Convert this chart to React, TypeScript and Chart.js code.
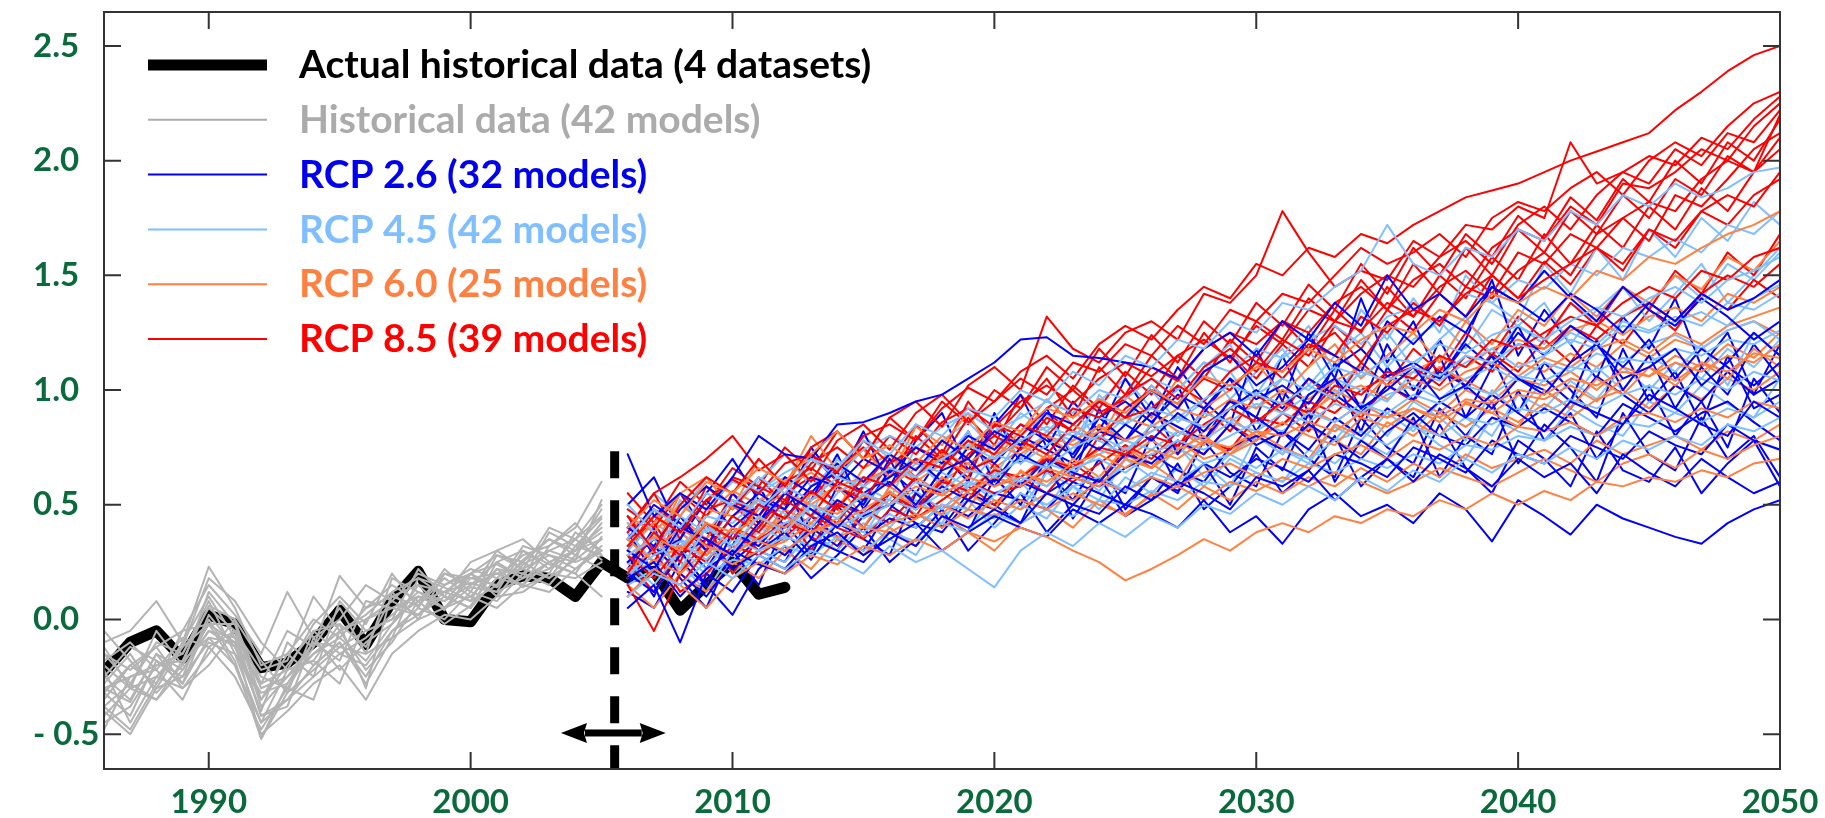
import React, { useEffect, useRef } from 'react';
import { Chart, registerables } from 'chart.js';

Chart.register(...registerables);

// ---------- categories ----------
const HIST_YEARS = [1986, 1987, 1988, 1989, 1990, 1991, 1992, 1993, 1994, 1995, 1996, 1997, 1998, 1999, 2000, 2001, 2002, 2003, 2004, 2005];
const ACTUAL_YEARS = [1986, 1987, 1988, 1989, 1990, 1991, 1992, 1993, 1994, 1995, 1996, 1997, 1998, 1999, 2000, 2001, 2002, 2003, 2004, 2005, 2006, 2007, 2008, 2009, 2010, 2011, 2012];
const RCP_YEARS = [2006, 2007, 2008, 2009, 2010, 2011, 2012, 2013, 2014, 2015, 2016, 2017, 2018, 2019, 2020, 2021, 2022, 2023, 2024, 2025, 2026, 2027, 2028, 2029, 2030, 2031, 2032, 2033, 2034, 2035, 2036, 2037, 2038, 2039, 2040, 2041, 2042, 2043, 2044, 2045, 2046, 2047, 2048, 2049, 2050];

// ---------- tick labels ----------
const X_TICKS = [1990, 2000, 2010, 2020, 2030, 2040, 2050];
const Y_TICKS = [-0.5, 0, 0.5, 1, 1.5, 2, 2.5];
const Y_TICK_LABELS = ['- 0.5', '0.0', '0.5', '1.0', '1.5', '2.0', '2.5'];

// ---------- series values ----------
const ACTUAL = [-0.23, -0.10, -0.05, -0.17, 0.02, -0.02, -0.21, -0.19, -0.10, 0.04, -0.11, 0.08, 0.21, 0.00, -0.01, 0.15, 0.19, 0.18, 0.10, 0.25, 0.18, 0.21, 0.04, 0.15, 0.25, 0.11, 0.14];

const HIST_MODELS = [
  [-0.30, -0.25, -0.20, -0.15, 0.05, -0.05, -0.30, -0.25, -0.15, -0.05, 0.00, 0.05, 0.10, 0.08, 0.15, 0.20, 0.22, 0.28, 0.25, 0.30],
  [-0.40, -0.50, -0.30, -0.25, -0.10, -0.15, -0.45, -0.35, -0.25, -0.15, -0.20, -0.05, 0.02, 0.10, 0.05, 0.18, 0.15, 0.25, 0.30, 0.35],
  [-0.10, -0.05, 0.08, -0.10, 0.23, 0.05, -0.20, -0.15, 0.00, -0.08, 0.05, 0.15, 0.08, 0.20, 0.15, 0.25, 0.30, 0.22, 0.35, 0.45],
  [-0.25, -0.35, -0.15, -0.22, -0.05, -0.12, -0.40, -0.10, -0.20, -0.10, -0.25, -0.05, 0.05, 0.00, 0.12, 0.08, 0.20, 0.15, 0.28, 0.22],
  [-0.35, -0.20, -0.28, -0.10, 0.10, -0.08, -0.25, -0.30, -0.12, 0.19, 0.05, 0.10, 0.15, 0.12, 0.20, 0.28, 0.25, 0.35, 0.30, 0.40],
  [-0.20, -0.30, -0.25, -0.30, -0.15, 0.00, -0.35, -0.20, -0.05, -0.15, -0.08, 0.02, 0.12, 0.05, 0.18, 0.15, 0.32, 0.28, 0.22, 0.30],
  [-0.45, -0.38, -0.20, -0.18, -0.08, -0.20, -0.50, -0.40, -0.28, -0.20, -0.35, -0.15, -0.05, 0.02, 0.00, 0.10, 0.12, 0.20, 0.18, 0.25],
  [-0.15, -0.22, -0.12, -0.05, 0.15, 0.02, -0.15, 0.12, -0.08, 0.00, 0.15, 0.08, 0.20, 0.15, 0.22, 0.18, 0.28, 0.32, 0.40, 0.60],
  [-0.28, -0.15, -0.32, -0.20, -0.02, -0.10, -0.28, -0.22, -0.18, -0.02, -0.12, 0.10, 0.06, 0.18, 0.10, 0.22, 0.20, 0.30, 0.26, 0.35],
  [-0.32, -0.42, -0.18, -0.28, 0.00, -0.18, -0.52, -0.32, -0.22, -0.12, -0.05, 0.00, 0.08, 0.12, 0.08, 0.15, 0.25, 0.18, 0.32, 0.28],
  [-0.18, -0.10, -0.22, -0.35, -0.12, -0.05, -0.22, -0.18, 0.10, -0.05, 0.02, 0.12, 0.18, 0.10, 0.25, 0.30, 0.22, 0.40, 0.35, 0.50],
  [-0.38, -0.28, -0.10, -0.15, 0.08, -0.15, -0.32, -0.28, -0.15, -0.08, -0.18, -0.02, 0.10, 0.05, 0.14, 0.12, 0.18, 0.25, 0.20, 0.10],
  [-0.22, -0.45, -0.25, -0.12, -0.02, -0.02, -0.38, -0.25, -0.10, -0.18, 0.08, 0.05, 0.02, 0.15, 0.20, 0.24, 0.18, 0.22, 0.30, 0.38],
  [-0.42, -0.30, -0.35, -0.22, -0.05, -0.08, -0.42, -0.35, -0.20, -0.10, -0.28, -0.08, 0.00, 0.05, 0.10, 0.05, 0.15, 0.12, 0.22, 0.32],
  [-0.12, -0.30, -0.05, -0.20, 0.12, -0.02, -0.28, -0.05, -0.12, 0.05, -0.15, 0.18, 0.12, 0.08, 0.20, 0.14, 0.26, 0.35, 0.28, 0.42],
  [-0.48, -0.25, -0.22, -0.08, -0.12, -0.25, -0.48, -0.30, -0.35, -0.05, -0.22, -0.10, 0.08, -0.02, 0.06, 0.22, 0.14, 0.20, 0.38, 0.30],
  [-0.05, -0.18, -0.30, -0.12, 0.18, 0.08, -0.10, -0.22, -0.02, 0.10, -0.02, 0.20, 0.05, 0.22, 0.12, 0.30, 0.35, 0.25, 0.30, 0.48],
  [-0.30, -0.36, -0.15, -0.30, -0.20, -0.05, -0.42, -0.38, -0.08, -0.22, -0.10, -0.02, 0.15, 0.04, 0.20, 0.10, 0.24, 0.30, 0.35, 0.26],
  [-0.25, -0.12, -0.18, -0.25, 0.02, -0.12, -0.35, -0.15, -0.25, 0.08, -0.05, 0.00, 0.22, 0.10, 0.05, 0.25, 0.18, 0.38, 0.32, 0.44],
  [-0.38, -0.48, -0.28, -0.05, -0.02, -0.20, -0.45, -0.22, -0.18, -0.28, 0.00, 0.08, 0.02, 0.12, 0.16, 0.12, 0.30, 0.24, 0.20, 0.36],
  [-0.15, -0.28, -0.35, -0.18, 0.06, 0.00, -0.18, -0.32, -0.05, -0.02, -0.30, 0.12, 0.00, 0.20, 0.18, 0.20, 0.15, 0.32, 0.42, 0.28],
  [-0.32, -0.20, -0.12, -0.28, -0.08, -0.10, -0.52, -0.28, -0.10, -0.12, -0.15, -0.08, 0.18, 0.14, 0.08, 0.28, 0.22, 0.18, 0.26, 0.52],
];

const RCP26_MODELS = [
  [0.72, 0.45, 0.55, 0.48, 0.62, 0.80, 0.72, 0.70, 0.85, 0.86, 0.90, 0.95, 0.98, 1.05, 1.12, 1.22, 1.23, 1.15, 1.14, 1.12, 1.10, 1.05, 1.18, 1.25, 1.15, 1.30, 1.22, 1.38, 1.28, 1.50, 1.35, 1.42, 1.32, 1.45, 1.38, 1.30, 1.42, 1.35, 1.25, 1.38, 1.30, 1.42, 1.35, 1.40, 1.48],
  [0.05, 0.15, -0.10, 0.20, 0.12, 0.28, 0.22, 0.35, 0.30, 0.25, 0.38, 0.32, 0.45, 0.40, 0.48, 0.42, 0.55, 0.50, 0.46, 0.58, 0.52, 0.60, 0.55, 0.48, 0.62, 0.58, 0.65, 0.52, 0.62, 0.70, 0.60, 0.72, 0.66, 0.58, 0.70, 0.62, 0.68, 0.55, 0.72, 0.64, 0.58, 0.70, 0.62, 0.55, 0.60],
  [0.30, 0.22, 0.40, 0.35, 0.28, 0.42, 0.55, 0.48, 0.40, 0.52, 0.60, 0.50, 0.65, 0.70, 0.58, 0.72, 0.66, 0.80, 0.74, 0.85, 0.78, 0.90, 0.82, 0.95, 0.88, 0.80, 0.98, 1.05, 0.92, 1.00, 1.10, 0.96, 1.02, 1.15, 1.05, 0.98, 1.12, 1.20, 1.05, 1.10, 1.18, 1.02, 1.12, 1.25, 1.15],
  [0.18, 0.25, 0.10, 0.22, 0.30, 0.24, 0.20, 0.32, 0.38, 0.28, 0.35, 0.42, 0.30, 0.38, 0.45, 0.40, 0.36, 0.48, 0.42, 0.50, 0.46, 0.40, 0.52, 0.38, 0.45, 0.33, 0.48, 0.55, 0.45, 0.50, 0.42, 0.55, 0.48, 0.34, 0.52, 0.45, 0.37, 0.50, 0.44, 0.40, 0.36, 0.33, 0.42, 0.48, 0.52],
  [0.40, 0.32, 0.48, 0.58, 0.50, 0.45, 0.62, 0.55, 0.68, 0.60, 0.72, 0.65, 0.78, 0.70, 0.82, 0.76, 0.90, 0.85, 0.95, 0.88, 1.00, 0.92, 1.08, 1.15, 1.02, 1.10, 1.22, 1.15, 1.08, 1.30, 1.20, 1.32, 1.25, 1.45, 1.38, 1.52, 1.40, 1.30, 1.45, 1.35, 1.28, 1.40, 1.32, 1.22, 1.30],
  [0.25, 0.35, 0.30, 0.15, 0.38, 0.32, 0.45, 0.40, 0.52, 0.46, 0.55, 0.48, 0.58, 0.52, 0.62, 0.58, 0.70, 0.64, 0.60, 0.72, 0.68, 0.78, 0.72, 0.85, 0.76, 0.82, 0.74, 0.88, 0.80, 0.92, 0.85, 0.95, 0.88, 0.98, 0.90, 0.82, 0.95, 0.90, 0.85, 0.98, 0.92, 0.85, 0.80, 0.95, 0.88],
  [0.35, 0.50, 0.42, 0.30, 0.45, 0.55, 0.48, 0.62, 0.58, 0.70, 0.64, 0.75, 0.68, 0.80, 0.74, 0.85, 0.78, 0.72, 0.88, 0.95, 0.86, 0.98, 0.92, 1.05, 0.96, 1.02, 0.94, 1.10, 1.18, 1.06, 1.12, 1.05, 1.20, 1.10, 1.25, 1.15, 1.28, 1.20, 1.10, 1.22, 1.05, 1.18, 1.10, 1.02, 1.12],
  [0.20, 0.12, 0.28, 0.35, 0.22, 0.30, 0.38, 0.26, 0.42, 0.36, 0.44, 0.40, 0.50, 0.45, 0.55, 0.52, 0.48, 0.60, 0.55, 0.50, 0.62, 0.56, 0.68, 0.62, 0.70, 0.66, 0.60, 0.72, 0.68, 0.62, 0.75, 0.70, 0.64, 0.78, 0.72, 0.68, 0.80, 0.75, 0.70, 0.82, 0.76, 0.72, 0.85, 0.78, 0.74],
  [0.45, 0.28, 0.35, 0.52, 0.40, 0.50, 0.44, 0.58, 0.64, 0.55, 0.62, 0.70, 0.60, 0.75, 0.68, 0.80, 0.74, 0.68, 0.82, 0.78, 0.90, 0.84, 0.78, 0.92, 1.00, 0.92, 1.05, 0.98, 0.90, 1.02, 0.96, 1.08, 1.02, 0.92, 1.05, 1.00, 0.92, 1.06, 0.98, 0.90, 1.02, 0.95, 1.08, 0.98, 1.05],
  [0.15, 0.32, 0.20, 0.10, 0.25, 0.35, 0.28, 0.40, 0.32, 0.45, 0.50, 0.42, 0.38, 0.52, 0.48, 0.60, 0.55, 0.62, 0.58, 0.66, 0.72, 0.65, 0.60, 0.75, 0.80, 0.74, 0.85, 0.78, 0.70, 0.82, 0.90, 0.80, 0.76, 0.88, 0.84, 0.92, 0.86, 0.80, 0.94, 0.88, 0.82, 0.90, 0.95, 0.86, 0.78],
  [0.38, 0.20, 0.45, 0.30, 0.55, 0.42, 0.60, 0.35, 0.58, 0.50, 0.70, 0.48, 0.66, 0.82, 0.60, 0.75, 0.92, 0.70, 0.88, 0.78, 0.95, 0.72, 0.90, 1.05, 0.82, 1.00, 0.85, 1.12, 0.92, 1.20, 1.00, 1.15, 0.88, 1.10, 1.28, 1.05, 0.95, 1.22, 1.00, 1.15, 0.92, 1.10, 0.98, 1.20, 1.05],
  [0.22, 0.40, 0.18, 0.05, 0.30, 0.15, 0.42, 0.28, 0.50, 0.35, 0.28, 0.55, 0.45, 0.38, 0.62, 0.50, 0.70, 0.44, 0.62, 0.55, 0.80, 0.58, 0.68, 0.50, 0.75, 0.65, 0.90, 0.60, 0.78, 0.70, 0.88, 0.62, 0.80, 0.95, 0.68, 0.85, 0.75, 0.60, 0.90, 0.72, 0.65, 0.88, 0.70, 0.80, 0.62],
  [0.50, 0.62, 0.38, 0.55, 0.70, 0.52, 0.48, 0.75, 0.60, 0.82, 0.58, 0.78, 0.90, 0.65, 0.85, 0.98, 0.75, 0.95, 0.82, 1.05, 0.88, 1.10, 0.95, 0.85, 1.18, 0.95, 1.25, 1.05, 1.40, 1.12, 1.30, 1.05, 1.22, 1.48, 1.15, 1.35, 1.20, 1.05, 1.32, 1.18, 1.40, 1.10, 1.25, 0.98, 1.20],
  [0.12, 0.05, 0.25, 0.15, 0.02, 0.22, 0.32, 0.18, 0.28, 0.40, 0.25, 0.35, 0.48, 0.30, 0.42, 0.55, 0.38, 0.50, 0.62, 0.45, 0.52, 0.68, 0.48, 0.58, 0.72, 0.55, 0.65, 0.80, 0.58, 0.70, 0.62, 0.85, 0.66, 0.55, 0.78, 0.70, 0.58, 0.82, 0.65, 0.60, 0.75, 0.55, 0.68, 0.78, 0.58],
  [0.30, 0.45, 0.55, 0.38, 0.32, 0.58, 0.40, 0.52, 0.72, 0.48, 0.65, 0.55, 0.72, 0.60, 0.90, 0.68, 0.80, 0.62, 0.92, 0.70, 0.85, 1.02, 0.78, 0.96, 0.88, 1.15, 0.90, 1.05, 0.82, 1.10, 0.95, 1.22, 1.00, 1.15, 0.90, 1.12, 1.00, 0.88, 1.18, 0.95, 1.08, 0.85, 1.15, 0.92, 0.98],
  [0.28, 0.10, 0.35, 0.22, 0.40, 0.30, 0.25, 0.45, 0.36, 0.30, 0.48, 0.62, 0.40, 0.55, 0.50, 0.42, 0.65, 0.52, 0.70, 0.48, 0.62, 0.55, 0.78, 0.64, 0.58, 0.82, 0.70, 0.62, 0.88, 0.75, 0.68, 0.92, 0.80, 0.72, 1.00, 0.78, 0.90, 0.70, 0.85, 1.02, 0.80, 0.95, 0.75, 1.05, 0.90],
];

const RCP45_MODELS = [
  [0.35, 0.48, 0.40, 0.55, 0.50, 0.62, 0.55, 0.70, 0.66, 0.78, 0.72, 0.85, 0.80, 0.92, 0.88, 1.00, 0.95, 1.08, 1.02, 1.15, 1.10, 1.22, 1.18, 1.30, 1.25, 1.38, 1.35, 1.45, 1.52, 1.72, 1.55, 1.50, 1.62, 1.58, 1.70, 1.65, 1.78, 1.72, 1.85, 1.80, 1.90, 1.84, 1.88, 1.95, 1.97],
  [0.10, 0.20, 0.15, 0.25, 0.18, 0.28, 0.22, 0.30, 0.26, 0.20, 0.32, 0.25, 0.30, 0.22, 0.14, 0.30, 0.38, 0.32, 0.42, 0.36, 0.45, 0.40, 0.50, 0.46, 0.55, 0.50, 0.58, 0.52, 0.62, 0.56, 0.65, 0.60, 0.70, 0.64, 0.72, 0.68, 0.75, 0.70, 0.78, 0.74, 0.80, 0.76, 0.85, 0.82, 0.88],
  [0.28, 0.35, 0.22, 0.40, 0.32, 0.45, 0.38, 0.50, 0.44, 0.55, 0.50, 0.60, 0.56, 0.65, 0.62, 0.70, 0.66, 0.75, 0.80, 0.74, 0.82, 0.88, 0.84, 0.92, 0.98, 0.94, 1.02, 0.96, 1.08, 1.04, 1.10, 1.06, 1.15, 1.12, 1.20, 1.16, 1.25, 1.20, 1.30, 1.26, 1.32, 1.28, 1.38, 1.35, 1.42],
  [0.42, 0.30, 0.45, 0.38, 0.52, 0.48, 0.58, 0.52, 0.62, 0.58, 0.66, 0.62, 0.70, 0.76, 0.70, 0.78, 0.84, 0.80, 0.88, 0.85, 0.92, 0.88, 0.96, 1.02, 0.98, 1.05, 1.00, 1.10, 1.06, 1.14, 1.12, 1.20, 1.16, 1.24, 1.28, 1.22, 1.30, 1.36, 1.32, 1.40, 1.45, 1.38, 1.48, 1.52, 1.58],
  [0.20, 0.28, 0.34, 0.26, 0.38, 0.34, 0.42, 0.48, 0.40, 0.46, 0.52, 0.48, 0.55, 0.60, 0.54, 0.62, 0.58, 0.66, 0.70, 0.64, 0.72, 0.78, 0.74, 0.80, 0.86, 0.82, 0.90, 0.86, 0.94, 0.90, 0.98, 0.94, 1.02, 0.98, 1.06, 1.04, 1.10, 1.08, 1.14, 1.12, 1.18, 1.15, 1.22, 1.20, 1.26],
  [0.50, 0.38, 0.30, 0.45, 0.42, 0.52, 0.46, 0.40, 0.55, 0.62, 0.58, 0.68, 0.64, 0.58, 0.72, 0.68, 0.76, 0.82, 0.78, 0.72, 0.85, 0.80, 0.90, 0.86, 0.94, 0.90, 0.98, 1.05, 1.00, 0.95, 1.08, 1.04, 1.12, 1.18, 1.10, 1.15, 1.22, 1.18, 1.28, 1.25, 1.30, 1.34, 1.28, 1.40, 1.46],
  [0.25, 0.15, 0.30, 0.22, 0.35, 0.30, 0.36, 0.32, 0.42, 0.38, 0.46, 0.40, 0.50, 0.48, 0.44, 0.55, 0.50, 0.58, 0.62, 0.56, 0.64, 0.60, 0.68, 0.72, 0.66, 0.74, 0.70, 0.78, 0.82, 0.76, 0.84, 0.80, 0.88, 0.85, 0.92, 0.90, 0.96, 0.92, 0.98, 1.02, 0.98, 1.05, 1.00, 1.08, 1.04],
  [0.32, 0.45, 0.55, 0.48, 0.60, 0.56, 0.64, 0.70, 0.62, 0.74, 0.80, 0.75, 0.84, 0.90, 0.82, 0.88, 0.95, 0.90, 1.00, 0.96, 1.05, 1.00, 1.12, 1.08, 1.18, 1.14, 1.22, 1.28, 1.20, 1.32, 1.36, 1.30, 1.42, 1.38, 1.48, 1.44, 1.55, 1.50, 1.62, 1.58, 1.66, 1.60, 1.72, 1.68, 1.78],
  [0.38, 0.25, 0.32, 0.42, 0.30, 0.40, 0.35, 0.45, 0.52, 0.44, 0.50, 0.56, 0.48, 0.58, 0.64, 0.60, 0.68, 0.64, 0.72, 0.78, 0.74, 0.82, 0.78, 0.86, 0.82, 0.90, 0.86, 0.94, 0.90, 0.98, 1.02, 0.96, 1.05, 1.10, 1.04, 1.12, 1.08, 1.16, 1.12, 1.20, 1.24, 1.18, 1.26, 1.30, 1.22],
  [0.15, 0.22, 0.28, 0.20, 0.26, 0.24, 0.32, 0.28, 0.36, 0.30, 0.38, 0.34, 0.42, 0.38, 0.46, 0.42, 0.48, 0.45, 0.52, 0.50, 0.56, 0.52, 0.60, 0.58, 0.64, 0.60, 0.68, 0.64, 0.70, 0.66, 0.72, 0.68, 0.76, 0.74, 0.80, 0.78, 0.84, 0.80, 0.86, 0.84, 0.90, 0.86, 0.92, 0.88, 0.95],
  [0.45, 0.30, 0.52, 0.40, 0.35, 0.55, 0.62, 0.45, 0.70, 0.58, 0.52, 0.75, 0.68, 0.82, 0.62, 0.80, 0.90, 0.72, 0.98, 0.85, 1.02, 0.92, 1.10, 1.20, 0.98, 1.15, 1.28, 1.08, 1.35, 1.22, 1.40, 1.25, 1.50, 1.38, 1.30, 1.55, 1.42, 1.62, 1.48, 1.70, 1.58, 1.75, 1.65, 1.82, 1.72],
  [0.18, 0.32, 0.25, 0.12, 0.30, 0.38, 0.28, 0.42, 0.35, 0.48, 0.40, 0.52, 0.45, 0.38, 0.55, 0.60, 0.48, 0.65, 0.56, 0.70, 0.62, 0.75, 0.68, 0.58, 0.80, 0.72, 0.85, 0.78, 0.92, 0.80, 0.95, 0.88, 0.78, 1.00, 0.90, 1.05, 0.95, 1.10, 1.00, 1.15, 1.08, 1.20, 1.02, 1.25, 1.15],
  [0.30, 0.42, 0.35, 0.28, 0.45, 0.52, 0.40, 0.58, 0.68, 0.50, 0.62, 0.70, 0.58, 0.76, 0.85, 0.70, 0.82, 0.92, 0.78, 0.88, 1.00, 0.86, 0.95, 1.08, 0.92, 1.05, 1.18, 0.98, 1.12, 1.25, 1.10, 1.22, 1.32, 1.15, 1.28, 1.38, 1.20, 1.35, 1.45, 1.30, 1.42, 1.55, 1.38, 1.50, 1.62],
  [0.22, 0.12, 0.28, 0.35, 0.20, 0.30, 0.25, 0.38, 0.30, 0.42, 0.35, 0.28, 0.45, 0.52, 0.40, 0.50, 0.44, 0.58, 0.48, 0.62, 0.55, 0.66, 0.58, 0.70, 0.64, 0.60, 0.74, 0.68, 0.78, 0.72, 0.85, 0.76, 0.70, 0.88, 0.82, 0.78, 0.92, 0.85, 0.80, 0.95, 0.90, 1.02, 0.94, 0.88, 1.05],
  [0.40, 0.55, 0.45, 0.62, 0.48, 0.60, 0.72, 0.58, 0.66, 0.80, 0.70, 0.62, 0.78, 0.86, 0.74, 0.90, 0.82, 0.78, 0.95, 1.05, 0.92, 1.00, 1.12, 0.96, 1.08, 1.18, 1.02, 1.15, 1.25, 1.10, 1.22, 1.30, 1.18, 1.35, 1.28, 1.20, 1.38, 1.30, 1.45, 1.36, 1.50, 1.40, 1.55, 1.48, 1.60],
  [0.28, 0.20, 0.38, 0.30, 0.25, 0.42, 0.34, 0.50, 0.40, 0.36, 0.55, 0.46, 0.42, 0.60, 0.52, 0.48, 0.64, 0.58, 0.52, 0.70, 0.66, 0.76, 0.62, 0.72, 0.80, 0.74, 0.68, 0.84, 0.78, 0.90, 0.82, 0.95, 0.88, 0.80, 0.98, 0.92, 1.04, 0.96, 1.10, 1.00, 1.12, 1.05, 1.18, 1.10, 1.22],
];

const RCP60_MODELS = [
  [0.40, 0.52, 0.45, 0.60, 0.55, 0.66, 0.60, 0.72, 0.82, 0.70, 0.76, 0.68, 0.80, 0.74, 0.86, 0.82, 0.92, 0.88, 0.96, 0.90, 1.00, 0.94, 1.06, 1.02, 1.10, 1.08, 1.18, 1.12, 1.22, 1.28, 1.25, 1.35, 1.30, 1.42, 1.38, 1.45, 1.40, 1.52, 1.48, 1.58, 1.55, 1.62, 1.68, 1.72, 1.78],
  [0.10, 0.22, 0.15, 0.05, 0.18, 0.25, 0.20, 0.28, 0.24, 0.32, 0.28, 0.35, 0.30, 0.38, 0.34, 0.40, 0.36, 0.30, 0.25, 0.17, 0.22, 0.28, 0.35, 0.30, 0.38, 0.42, 0.38, 0.45, 0.42, 0.48, 0.45, 0.52, 0.48, 0.55, 0.50, 0.56, 0.52, 0.60, 0.58, 0.62, 0.60, 0.65, 0.62, 0.68, 0.70],
  [0.28, 0.36, 0.30, 0.42, 0.38, 0.44, 0.40, 0.50, 0.46, 0.54, 0.50, 0.58, 0.54, 0.62, 0.58, 0.64, 0.60, 0.68, 0.72, 0.66, 0.74, 0.70, 0.78, 0.75, 0.82, 0.80, 0.86, 0.82, 0.90, 0.88, 0.92, 0.88, 0.96, 0.94, 1.00, 0.98, 1.05, 1.02, 1.08, 1.06, 1.12, 1.08, 1.15, 1.12, 1.20],
  [0.22, 0.30, 0.40, 0.32, 0.28, 0.36, 0.45, 0.38, 0.42, 0.48, 0.55, 0.50, 0.46, 0.56, 0.62, 0.58, 0.66, 0.62, 0.58, 0.70, 0.66, 0.74, 0.80, 0.72, 0.78, 0.86, 0.80, 0.76, 0.88, 0.84, 0.92, 0.86, 0.94, 0.90, 0.98, 0.96, 1.02, 0.95, 1.05, 1.10, 1.04, 1.12, 1.08, 1.16, 1.14],
  [0.35, 0.25, 0.32, 0.28, 0.40, 0.34, 0.30, 0.38, 0.44, 0.36, 0.42, 0.46, 0.40, 0.48, 0.45, 0.52, 0.48, 0.55, 0.50, 0.46, 0.54, 0.58, 0.52, 0.60, 0.56, 0.62, 0.58, 0.64, 0.60, 0.55, 0.60, 0.66, 0.62, 0.58, 0.64, 0.70, 0.65, 0.60, 0.68, 0.72, 0.66, 0.74, 0.70, 0.76, 0.80],
  [0.45, 0.38, 0.50, 0.42, 0.35, 0.48, 0.55, 0.50, 0.58, 0.62, 0.58, 0.66, 0.70, 0.64, 0.72, 0.76, 0.70, 0.78, 0.84, 0.78, 0.82, 0.88, 0.84, 0.92, 0.86, 0.94, 0.90, 0.98, 1.02, 0.96, 1.05, 1.00, 1.08, 1.12, 1.06, 1.14, 1.10, 1.18, 1.22, 1.16, 1.25, 1.20, 1.28, 1.32, 1.36],
  [0.18, 0.26, 0.20, 0.30, 0.24, 0.30, 0.34, 0.42, 0.36, 0.40, 0.38, 0.44, 0.50, 0.44, 0.52, 0.48, 0.55, 0.52, 0.60, 0.56, 0.62, 0.58, 0.64, 0.68, 0.62, 0.70, 0.66, 0.72, 0.76, 0.70, 0.78, 0.74, 0.80, 0.76, 0.84, 0.82, 0.86, 0.80, 0.88, 0.90, 0.86, 0.92, 0.88, 0.95, 0.92],
  [0.32, 0.42, 0.55, 0.48, 0.45, 0.52, 0.58, 0.64, 0.56, 0.60, 0.66, 0.62, 0.72, 0.68, 0.76, 0.72, 0.80, 0.76, 0.82, 0.88, 0.84, 0.92, 0.88, 0.96, 0.92, 1.00, 0.96, 1.04, 1.10, 1.02, 1.08, 1.14, 1.10, 1.18, 1.22, 1.18, 1.26, 1.30, 1.24, 1.32, 1.36, 1.30, 1.42, 1.38, 1.45],
  [0.25, 0.38, 0.20, 0.42, 0.30, 0.45, 0.36, 0.55, 0.48, 0.40, 0.58, 0.50, 0.62, 0.55, 0.48, 0.65, 0.58, 0.70, 0.62, 0.75, 0.68, 0.60, 0.78, 0.72, 0.82, 0.75, 0.70, 0.85, 0.80, 0.92, 0.86, 0.80, 0.95, 0.90, 0.84, 1.00, 0.92, 1.05, 0.98, 1.10, 1.02, 1.12, 1.05, 1.18, 1.10],
  [0.42, 0.30, 0.55, 0.62, 0.48, 0.70, 0.58, 0.80, 0.65, 0.74, 0.62, 0.84, 0.76, 0.90, 0.70, 0.82, 0.96, 0.85, 0.78, 0.98, 0.88, 1.05, 0.92, 1.00, 1.12, 0.98, 1.10, 1.20, 1.05, 1.15, 1.25, 1.12, 1.30, 1.20, 1.35, 1.28, 1.42, 1.32, 1.45, 1.38, 1.50, 1.44, 1.58, 1.52, 1.65],
  [0.15, 0.05, 0.20, 0.12, 0.25, 0.18, 0.30, 0.22, 0.35, 0.28, 0.40, 0.32, 0.45, 0.38, 0.30, 0.42, 0.48, 0.40, 0.52, 0.45, 0.55, 0.48, 0.58, 0.52, 0.60, 0.55, 0.62, 0.58, 0.66, 0.60, 0.68, 0.62, 0.72, 0.66, 0.70, 0.74, 0.68, 0.78, 0.72, 0.76, 0.80, 0.74, 0.82, 0.78, 0.85],
  [0.32, 0.45, 0.38, 0.28, 0.40, 0.35, 0.48, 0.42, 0.52, 0.46, 0.56, 0.48, 0.60, 0.68, 0.58, 0.62, 0.72, 0.66, 0.74, 0.70, 0.78, 0.72, 0.82, 0.88, 0.80, 0.85, 0.92, 0.86, 0.94, 0.88, 0.96, 0.90, 1.00, 0.95, 1.05, 1.02, 1.08, 1.00, 1.10, 1.06, 1.15, 1.10, 1.20, 1.14, 1.25],
  [0.20, 0.30, 0.45, 0.35, 0.50, 0.42, 0.38, 0.52, 0.58, 0.45, 0.50, 0.62, 0.55, 0.48, 0.66, 0.58, 0.70, 0.64, 0.60, 0.72, 0.66, 0.78, 0.70, 0.74, 0.80, 0.72, 0.84, 0.78, 0.72, 0.86, 0.80, 0.90, 0.84, 0.92, 0.86, 0.94, 0.88, 0.96, 1.00, 0.92, 1.02, 0.96, 1.05, 1.00, 1.08],
  [0.38, 0.48, 0.30, 0.45, 0.56, 0.50, 0.62, 0.55, 0.48, 0.66, 0.72, 0.60, 0.68, 0.78, 0.66, 0.74, 0.80, 0.72, 0.85, 0.78, 0.90, 0.82, 0.76, 0.92, 0.86, 0.95, 0.88, 1.00, 0.94, 1.06, 1.00, 1.10, 1.04, 0.98, 1.12, 1.08, 1.16, 1.10, 1.20, 1.14, 1.22, 1.18, 1.26, 1.30, 1.24],
];

const RCP85_MODELS = [
  [0.32, 0.45, 0.38, 0.52, 0.61, 0.55, 0.68, 0.72, 0.64, 0.80, 0.85, 0.78, 0.92, 1.01, 0.95, 1.08, 1.15, 1.05, 1.20, 1.28, 1.22, 1.35, 1.45, 1.40, 1.55, 1.50, 1.62, 1.58, 1.68, 1.64, 1.72, 1.78, 1.84, 1.87, 1.90, 1.95, 2.00, 2.04, 2.08, 2.12, 2.22, 2.30, 2.39, 2.46, 2.50],
  [0.45, 0.30, 0.50, 0.62, 0.55, 0.70, 0.58, 0.75, 0.82, 0.70, 0.88, 0.95, 0.84, 1.02, 1.10, 1.00, 1.32, 1.18, 1.12, 1.25, 1.30, 1.22, 1.42, 1.38, 1.50, 1.78, 1.60, 1.45, 1.52, 1.48, 1.65, 1.58, 1.72, 1.70, 1.80, 1.75, 2.08, 1.90, 1.95, 2.02, 1.98, 2.10, 2.05, 2.18, 2.28],
  [0.20, 0.38, 0.28, 0.42, 0.35, 0.50, 0.44, 0.56, 0.48, 0.62, 0.58, 0.70, 0.66, 0.78, 0.72, 0.85, 0.80, 0.92, 0.88, 0.98, 1.05, 0.96, 1.10, 1.18, 1.08, 1.22, 1.15, 1.30, 1.26, 1.38, 1.32, 1.45, 1.52, 1.42, 1.60, 1.55, 1.68, 1.62, 1.75, 1.82, 1.78, 1.92, 2.00, 1.95, 2.20],
  [0.10, 0.22, 0.15, 0.30, 0.45, 0.38, 0.52, 0.45, 0.60, 0.55, 0.50, 0.62, 0.74, 0.65, 0.70, 0.78, 0.72, 0.85, 0.95, 0.88, 0.92, 1.02, 0.95, 1.08, 1.15, 1.05, 1.18, 1.25, 1.12, 1.28, 1.35, 1.30, 1.42, 1.50, 1.40, 1.48, 1.55, 1.62, 1.52, 1.70, 1.65, 1.78, 1.85, 1.80, 1.95],
  [0.28, 0.18, 0.32, 0.25, 0.40, 0.35, 0.42, 0.38, 0.50, 0.46, 0.55, 0.48, 0.60, 0.56, 0.65, 0.62, 0.70, 0.66, 0.75, 0.72, 0.80, 0.76, 0.85, 0.92, 0.86, 0.95, 0.90, 1.02, 0.98, 1.08, 1.05, 1.15, 1.10, 1.22, 1.18, 1.25, 1.32, 1.28, 1.38, 1.45, 1.40, 1.52, 1.48, 1.58, 1.62],
  [0.38, 0.55, 0.62, 0.70, 0.80, 0.65, 0.72, 0.60, 0.78, 0.85, 0.74, 0.90, 0.98, 0.86, 0.95, 1.05, 0.98, 1.12, 1.08, 1.20, 1.15, 1.28, 1.20, 1.35, 1.30, 1.42, 1.38, 1.50, 1.62, 1.55, 1.60, 1.68, 1.58, 1.75, 1.82, 1.78, 1.88, 1.95, 1.85, 2.00, 2.08, 2.02, 2.15, 2.25, 2.30],
  [0.15, -0.05, 0.20, 0.35, 0.28, 0.40, 0.55, 0.48, 0.42, 0.58, 0.66, 0.60, 0.55, 0.72, 0.80, 0.74, 0.88, 0.82, 0.78, 0.92, 1.00, 0.94, 1.05, 1.00, 1.12, 1.08, 1.20, 1.15, 1.32, 1.25, 1.38, 1.28, 1.45, 1.40, 1.52, 1.60, 1.50, 1.68, 1.75, 1.65, 1.85, 1.80, 1.92, 2.05, 2.12],
  [0.35, 0.42, 0.25, 0.48, 0.52, 0.45, 0.60, 0.66, 0.58, 0.52, 0.68, 0.75, 0.70, 0.62, 0.85, 0.80, 0.92, 1.00, 0.90, 0.96, 1.10, 1.04, 1.18, 1.25, 1.20, 1.30, 1.25, 1.38, 1.45, 1.35, 1.48, 1.55, 1.45, 1.62, 1.70, 1.65, 1.80, 1.72, 1.90, 1.88, 1.95, 2.05, 2.00, 2.15, 2.25],
  [0.22, 0.30, 0.12, 0.20, 0.32, 0.28, 0.36, 0.45, 0.40, 0.35, 0.48, 0.44, 0.52, 0.60, 0.55, 0.58, 0.65, 0.60, 0.68, 0.76, 0.70, 0.82, 0.78, 0.74, 0.88, 0.85, 0.95, 0.90, 1.00, 1.06, 1.10, 1.02, 1.15, 1.08, 1.20, 1.18, 1.28, 1.22, 1.32, 1.38, 1.30, 1.42, 1.50, 1.45, 1.55],
  [0.48, 0.40, 0.55, 0.45, 0.62, 0.58, 0.52, 0.68, 0.75, 0.66, 0.80, 0.72, 0.86, 0.92, 0.84, 0.95, 1.02, 0.94, 1.05, 1.12, 1.06, 1.15, 1.22, 1.14, 1.28, 1.20, 1.35, 1.30, 1.42, 1.50, 1.45, 1.58, 1.65, 1.55, 1.72, 1.80, 1.70, 1.85, 1.95, 1.90, 2.05, 1.98, 2.12, 2.08, 2.22],
  [0.40, 0.55, 0.35, 0.58, 0.48, 0.62, 0.50, 0.72, 0.60, 0.78, 0.68, 0.85, 0.72, 0.95, 0.80, 0.92, 1.05, 0.88, 1.10, 0.98, 1.15, 1.05, 1.25, 1.12, 1.30, 1.22, 1.40, 1.30, 1.48, 1.35, 1.55, 1.42, 1.62, 1.50, 1.70, 1.60, 1.78, 1.68, 1.85, 1.75, 1.92, 1.85, 2.02, 1.95, 2.10],
  [0.25, 0.12, 0.30, 0.42, 0.20, 0.35, 0.48, 0.30, 0.52, 0.40, 0.55, 0.45, 0.62, 0.52, 0.68, 0.58, 0.72, 0.62, 0.80, 0.70, 0.85, 0.75, 0.92, 0.82, 0.98, 0.90, 1.05, 0.95, 1.12, 1.02, 1.18, 1.08, 1.25, 1.15, 1.32, 1.22, 1.38, 1.28, 1.45, 1.35, 1.52, 1.42, 1.60, 1.50, 1.68],
  [0.30, 0.48, 0.42, 0.35, 0.55, 0.45, 0.58, 0.52, 0.66, 0.75, 0.62, 0.80, 0.70, 0.88, 0.76, 0.98, 0.85, 1.02, 0.92, 1.08, 0.98, 1.15, 1.05, 1.22, 1.12, 1.30, 1.18, 1.35, 1.25, 1.45, 1.32, 1.50, 1.40, 1.58, 1.48, 1.68, 1.55, 1.72, 1.62, 1.80, 1.70, 1.88, 1.78, 1.95, 2.05],
  [0.18, 0.32, 0.25, 0.15, 0.38, 0.30, 0.42, 0.36, 0.30, 0.48, 0.42, 0.55, 0.48, 0.58, 0.50, 0.62, 0.55, 0.68, 0.60, 0.74, 0.66, 0.78, 0.72, 0.85, 0.78, 0.90, 0.82, 0.96, 0.88, 1.02, 0.95, 1.10, 1.02, 1.16, 1.08, 1.22, 1.12, 1.28, 1.20, 1.35, 1.26, 1.42, 1.35, 1.48, 1.40],
  [0.55, 0.42, 0.60, 0.50, 0.66, 0.58, 0.75, 0.65, 0.82, 0.70, 0.88, 0.78, 0.95, 0.85, 1.00, 0.92, 1.10, 1.00, 1.18, 1.06, 1.24, 1.12, 1.30, 1.20, 1.38, 1.28, 1.46, 1.35, 1.55, 1.42, 1.62, 1.50, 1.68, 1.58, 1.76, 1.66, 1.84, 1.74, 1.92, 1.82, 2.00, 1.90, 2.08, 2.00, 2.18],
  [0.35, 0.25, 0.45, 0.32, 0.50, 0.40, 0.55, 0.62, 0.50, 0.58, 0.72, 0.62, 0.78, 0.70, 0.86, 0.76, 0.90, 0.82, 0.96, 0.88, 1.02, 0.92, 1.08, 1.15, 1.05, 1.20, 1.10, 1.28, 1.18, 1.35, 1.26, 1.42, 1.32, 1.50, 1.40, 1.56, 1.46, 1.62, 1.55, 1.70, 1.62, 1.78, 1.72, 1.85, 1.92],
];

// vertical divider (2005/2006 boundary) and the time-shift arrow
const DIVIDER_X = [2005.5, 2005.5];
const DIVIDER_Y = [0.733, -0.66];
const ARROW_X = [2003.45, 2007.45];
const ARROW_Y = -0.495;

// ---------- styles ----------
const COLORS = {
  actual: '#000000',
  hist: '#b3b3b3',
  rcp26: '#0000ff',
  rcp45: '#80bfff',
  rcp60: '#ff8040',
  rcp85: '#ff0000',
};
const LEGEND_LABELS = [
  'Actual historical data (4 datasets)',
  'Historical data (42 models)',
  'RCP 2.6 (32 models)',
  'RCP 4.5 (42 models)',
  'RCP 6.0 (25 models)',
  'RCP 8.5 (39 models)',
];
const LEGEND_COLORS = [COLORS.actual, '#ababab', '#0000ee', COLORS.rcp45, COLORS.rcp60, COLORS.rcp85];
const LEGEND_LINE_W = [11, 2, 2, 2, 2, 2];
const TICK_GREEN = '#0b6a3b';
const FONT = 'Lato, "Open Sans", sans-serif';

const pts = (years: number[], vals: number[]) => vals.map((v, i) => ({ x: years[i], y: v }));

const lineDs = (data: any[], color: string, width: number) => ({
  data,
  borderColor: color,
  borderWidth: width,
  pointRadius: 0,
  pointHoverRadius: 0,
  fill: false,
  tension: 0,
  borderJoinStyle: 'round' as const,
  borderCapStyle: 'round' as const,
});

const framePlugin = {
  id: 'frameTicks',
  afterDatasetsDraw(chart: any) {
    const { ctx, chartArea: a, scales } = chart;
    const xs = scales.x;
    const ys = scales.y;
    const TL = 17;
    ctx.save();
    ctx.strokeStyle = '#333333';
    ctx.lineWidth = 2;
    ctx.beginPath();
    X_TICKS.forEach((v) => {
      const px = xs.getPixelForValue(v);
      if (px < a.right - 2) {
        ctx.moveTo(px, a.top);
        ctx.lineTo(px, a.top + TL);
        ctx.moveTo(px, a.bottom);
        ctx.lineTo(px, a.bottom - TL);
      }
    });
    Y_TICKS.forEach((v) => {
      const py = ys.getPixelForValue(v);
      ctx.moveTo(a.left, py);
      ctx.lineTo(a.left + TL, py);
      ctx.moveTo(a.right, py);
      ctx.lineTo(a.right - TL, py);
    });
    ctx.stroke();
    ctx.strokeRect(a.left, a.top, a.right - a.left, a.bottom - a.top);

    // double-headed arrow
    const x1 = xs.getPixelForValue(ARROW_X[0]);
    const x2 = xs.getPixelForValue(ARROW_X[1]);
    const yy = ys.getPixelForValue(ARROW_Y);
    const head = 26;
    const hh = 10;
    ctx.fillStyle = '#000';
    ctx.fillRect(x1 + head - 2, yy - 3.5, x2 - x1 - 2 * head + 4, 7);
    ctx.beginPath();
    ctx.moveTo(x1, yy);
    ctx.lineTo(x1 + head, yy - hh);
    ctx.lineTo(x1 + head - 3, yy);
    ctx.lineTo(x1 + head, yy + hh);
    ctx.closePath();
    ctx.fill();
    ctx.beginPath();
    ctx.moveTo(x2, yy);
    ctx.lineTo(x2 - head, yy - hh);
    ctx.lineTo(x2 - head + 3, yy);
    ctx.lineTo(x2 - head, yy + hh);
    ctx.closePath();
    ctx.fill();
    ctx.restore();
  },
};

const legendPlugin = {
  id: 'insideLegend',
  afterDraw(chart: any) {
    const { ctx, chartArea: a } = chart;
    const size = 39;
    ctx.save();
    ctx.font = `bold ${size}px ${FONT}`;
    ctx.textBaseline = 'alphabetic';
    ctx.textAlign = 'left';
    LEGEND_LABELS.forEach((label, i) => {
      const yy = a.top + 53 + i * 54.8;
      ctx.strokeStyle = LEGEND_COLORS[i];
      ctx.lineWidth = LEGEND_LINE_W[i];
      ctx.lineCap = 'butt';
      ctx.beginPath();
      ctx.moveTo(a.left + 44, yy);
      ctx.lineTo(a.left + 163, yy);
      ctx.stroke();
      ctx.fillStyle = LEGEND_COLORS[i];
      ctx.fillText(label, a.left + 195, yy + size * 0.34);
    });
    ctx.restore();
  },
};

export default function App() {
  const ref = useRef<HTMLCanvasElement | null>(null);

  useEffect(() => {
    if (!ref.current) return;
    const datasets: any[] = [];
    HIST_MODELS.forEach((m) => datasets.push(lineDs(pts(HIST_YEARS, m), COLORS.hist, 2)));
    const groups: [number[][], string][] = [
      [RCP45_MODELS, COLORS.rcp45],
      [RCP60_MODELS, COLORS.rcp60],
      [RCP26_MODELS, COLORS.rcp26],
      [RCP85_MODELS, COLORS.rcp85],
    ];
    const maxN = Math.max(...groups.map((g) => g[0].length));
    for (let i = 0; i < maxN; i++) {
      groups.forEach(([models, color]) => {
        if (models[i]) datasets.push(lineDs(pts(RCP_YEARS, models[i]), color, 2));
      });
    }
    datasets.push(lineDs(pts(ACTUAL_YEARS, ACTUAL), COLORS.actual, 11));
    datasets.push({
      ...lineDs(pts(DIVIDER_X, DIVIDER_Y), '#000000', 9),
      borderDash: [27, 22],
      borderCapStyle: 'butt',
    });

    const chart = new Chart(ref.current, {
      type: 'line',
      data: { datasets },
      plugins: [framePlugin, legendPlugin],
      options: {
        animation: false,
        responsive: true,
        maintainAspectRatio: false,
        layout: { padding: { left: 33, right: 45, top: 12, bottom: 0 } },
        plugins: { legend: { display: false }, tooltip: { enabled: false } },
        events: [],
        scales: {
          x: {
            type: 'linear',
            min: 1986,
            max: 2050,
            grid: { display: false, drawTicks: false },
            border: { display: false },
            afterBuildTicks: (s: any) => {
              s.ticks = X_TICKS.map((v) => ({ value: v }));
            },
            afterFit: (s: any) => {
              s.height = 49;
              s.paddingLeft = 0;
              s.paddingRight = 0;
            },
            ticks: {
              autoSkip: false,
              maxRotation: 0,
              padding: 14,
              color: TICK_GREEN,
              font: { family: FONT, size: 33, weight: 'bold' },
              callback: (v: any) => String(v),
            },
          },
          y: {
            type: 'linear',
            min: -0.652,
            max: 2.648,
            grid: { display: false, drawTicks: false },
            border: { display: false },
            afterBuildTicks: (s: any) => {
              s.ticks = Y_TICKS.map((v) => ({ value: v }));
            },
            afterFit: (s: any) => {
              s.width = 71;
              s.paddingTop = 0;
              s.paddingBottom = 0;
            },
            ticks: {
              autoSkip: false,
              crossAlign: 'far',
              color: TICK_GREEN,
              font: { family: FONT, size: 33, weight: 'bold' },
              callback: (v: any) => {
                const i = Y_TICKS.findIndex((t) => Math.abs(t - Number(v)) < 1e-6);
                return i >= 0 ? Y_TICK_LABELS[i] : '';
              },
            },
          },
        },
      },
    });
    return () => chart.destroy();
  }, []);

  return (
    <div style={{ position: 'fixed', left: 0, top: 0, width: 1825, height: 818, background: '#fff' }}>
      <canvas ref={ref} />
    </div>
  );
}
